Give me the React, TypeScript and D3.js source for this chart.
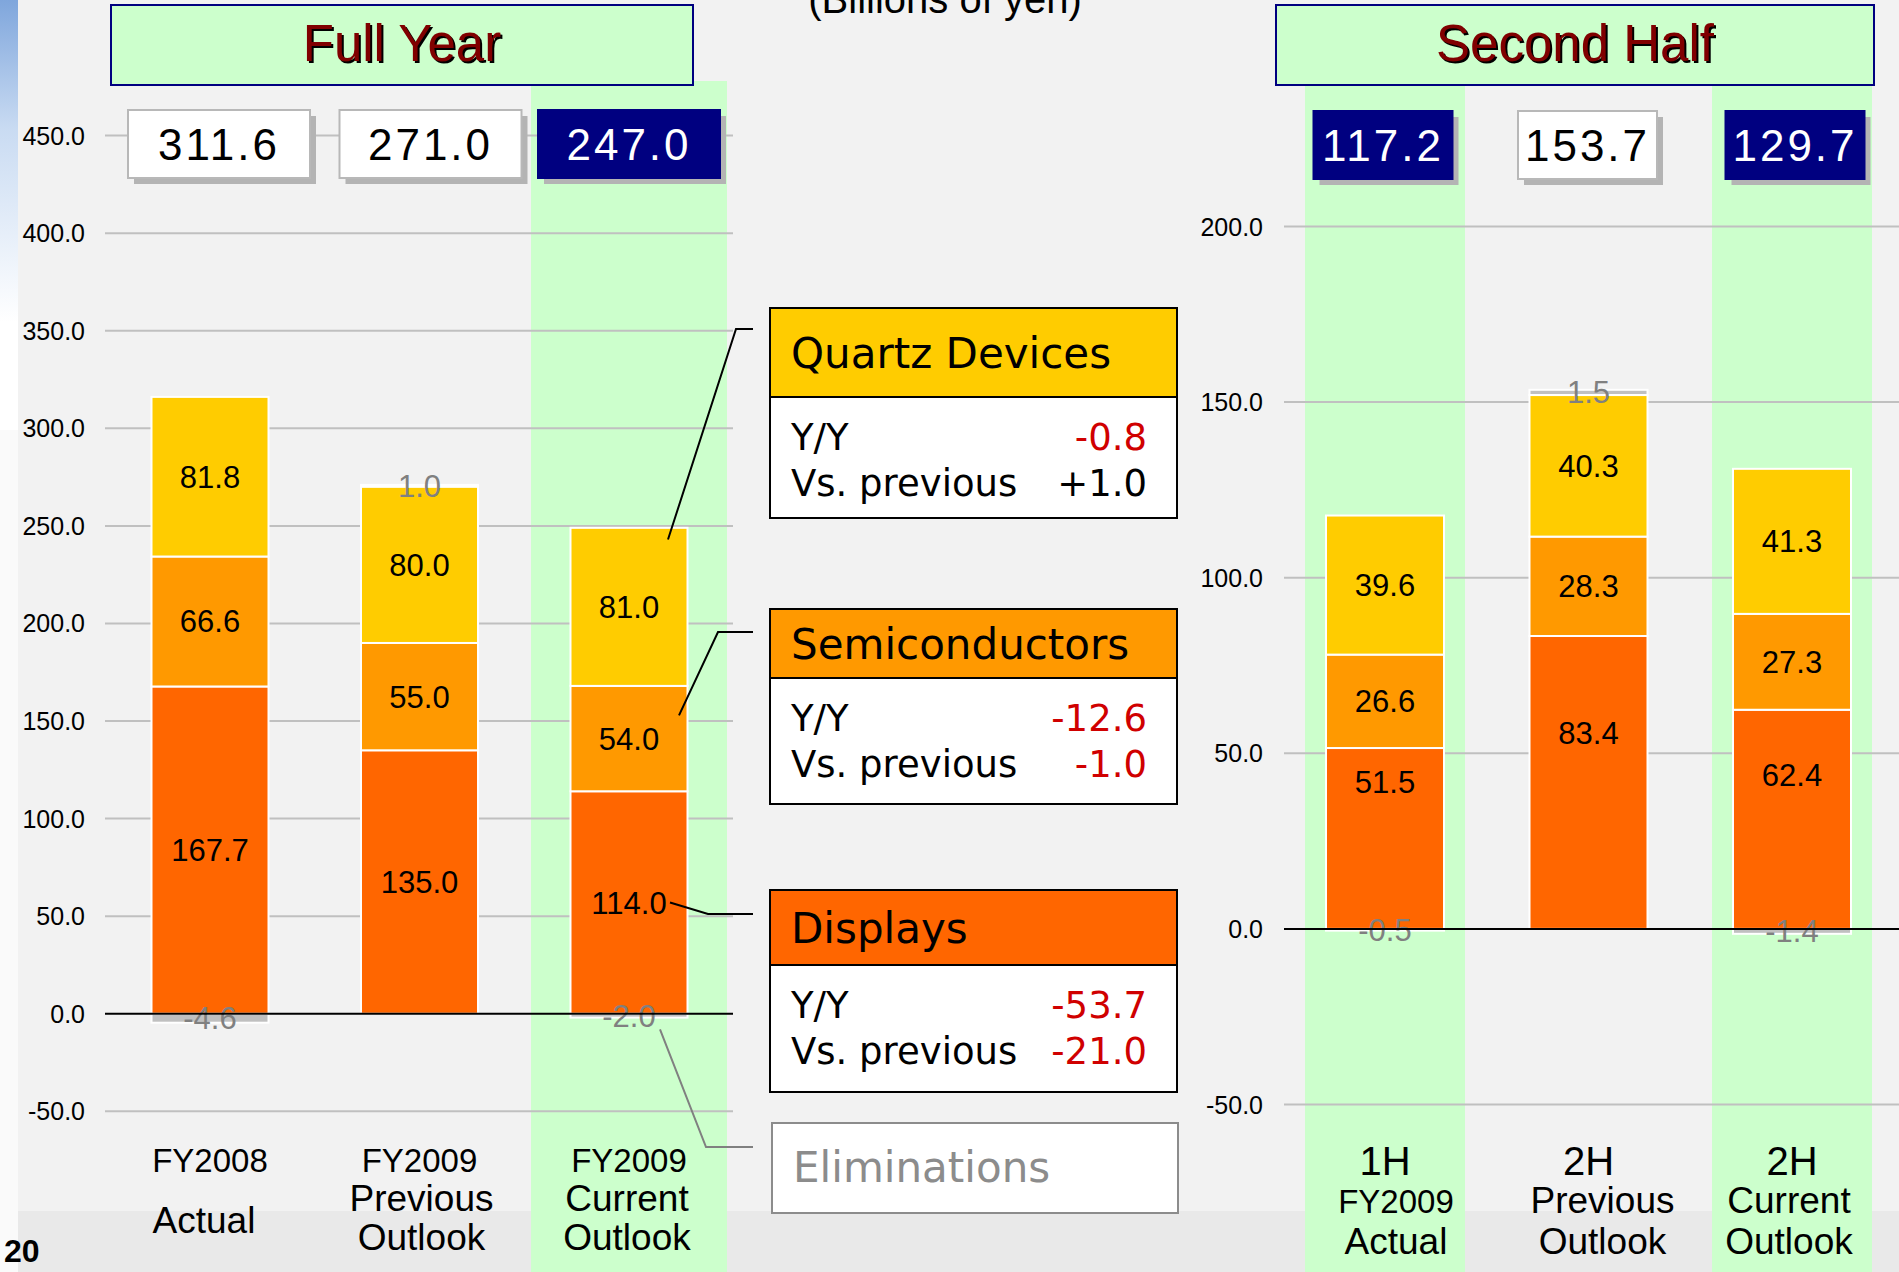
import React from "react";
import * as d3 from "d3";

// values in billions of yen
const fullYearCats = ["FY2008 Actual", "FY2009 Previous", "FY2009 Current"];
const fullYearDisplays = [167.7, 135.0, 114.0];
const fullYearSemis = [66.6, 55.0, 54.0];
const fullYearQuartz = [81.8, 80.0, 81.0];
const fullYearElim = [-4.6, 1.0, -2.0];
const fullYearTotals = ["311.6", "271.0", "247.0"];
const fullYearHighlight = [false, false, true];
const fullYearTicks = [-50, 0, 50, 100, 150, 200, 250, 300, 350, 400, 450];
const fullYearLabels = [["FY2008", "Actual"], ["FY2009", "Previous", "Outlook"], ["FY2009", "Current", "Outlook"]];

const halfCats = ["1H FY2009", "2H Previous", "2H Current"];
const halfDisplays = [51.5, 83.4, 62.4];
const halfSemis = [26.6, 28.3, 27.3];
const halfQuartz = [39.6, 40.3, 41.3];
const halfElim = [-0.5, 1.5, -1.4];
const halfTotals = ["117.2", "153.7", "129.7"];
const halfHighlight = [true, false, true];
const halfTicks = [-50, 0, 50, 100, 150, 200];
const halfLabels = [["1H", "FY2009", "Actual"], ["2H", "Previous", "Outlook"], ["2H", "Current", "Outlook"]];

const segmentNames = ["Quartz Devices", "Semiconductors", "Displays"];
const segmentYY = ["-0.8", "-12.6", "-53.7"];
const segmentVsPrev = ["+1.0", "-1.0", "-21.0"];

const colors = {
  displays: "#ff6600",
  semis: "#ff9900",
  quartz: "#ffcc00",
  elim: "#c0c0c0",
  elimText: "#808080",
  grid: "#c0c0c0",
  green: "#ccffcc",
  navy: "#000080",
  bg: "#f2f2f2",
};
const segColors = [colors.quartz, colors.semis, colors.displays];

const arial = "'Liberation Sans', Arial, sans-serif";
const verdana = "'DejaVu Sans', Verdana, sans-serif";

type PanelProps = {
  cats: string[];
  displays: number[];
  semis: number[];
  quartz: number[];
  elim: number[];
  totals: string[];
  highlight: boolean[];
  ticks: number[];
  labels: string[][];
  domain: [number, number];
  yRange: [number, number];
  xRange: [number, number];
  gridX: [number, number];
  tickX: number;
  barW: number;
  bandW: number;
  boxW: number;
  boxShift: number[];
  boxTop: number;
  bandTop: number;
  dispLabelPos: number[];
  labelShift: number[];
  rowY: number[];
  firstSize: number;
};

const Panel = (p: PanelProps) => {
  const y = d3.scaleLinear().domain(p.domain).range(p.yRange);
  const x = d3.scalePoint<string>().domain(p.cats).range(p.xRange);
  const label = (v: number) => v.toFixed(1);

  return (
    <g>
      {p.cats.map((c, i) =>
        p.highlight[i] ? (
          <rect key={"band" + i} x={x(c)! - p.bandW / 2} y={p.bandTop} width={p.bandW} height={1272 - p.bandTop} fill={colors.green} />
        ) : null
      )}
      {p.ticks.map((t) => (
        <g key={"t" + t}>
          {t !== 0 && <line x1={p.gridX[0]} x2={p.gridX[1]} y1={y(t)} y2={y(t)} stroke={colors.grid} strokeWidth={2} />}
          <text x={p.tickX} y={y(t) + 9} textAnchor="end" fontFamily={arial} fontSize={25} fill="#000">
            {t.toFixed(1)}
          </text>
        </g>
      ))}
      {p.cats.map((c, i) => {
        const cx = x(c)!;
        const x0 = cx - p.barW / 2;
        const d = p.displays[i];
        const s = p.semis[i];
        const q = p.quartz[i];
        const e = p.elim[i];
        const top = d + s + q;
        const segs = [
          { lo: 0, hi: d, fill: colors.displays, lab: label(d), pos: p.dispLabelPos[i] },
          { lo: d, hi: d + s, fill: colors.semis, lab: label(s), pos: 0.5 },
          { lo: d + s, hi: top, fill: colors.quartz, lab: label(q), pos: 0.5 },
        ];
        const eLo = e < 0 ? e : top;
        const eHi = e < 0 ? 0 : top + e;
        return (
          <g key={"bar" + i}>
            <rect x={x0} y={y(eHi)} width={p.barW} height={y(eLo) - y(eHi)} fill={colors.elim} stroke="#fff" strokeWidth={2} />
            {segs.map((sg, j) => (
              <rect key={j} x={x0} y={y(sg.hi)} width={p.barW} height={y(sg.lo) - y(sg.hi)} fill={sg.fill} stroke="#fff" strokeWidth={2} />
            ))}
            {segs.map((sg, j) => (
              <text key={"l" + j} x={cx} y={y(sg.lo + (sg.hi - sg.lo) * sg.pos) + 11} textAnchor="middle" fontFamily={arial} fontSize={31} fill="#000">
                {sg.lab}
              </text>
            ))}
            <text x={cx} y={y((eLo + eHi) / 2) + 11} textAnchor="middle" fontFamily={arial} fontSize={31} fill={colors.elimText}>
              {label(e)}
            </text>
          </g>
        );
      })}
      <line x1={p.gridX[0]} x2={p.gridX[1]} y1={y(0)} y2={y(0)} stroke="#000" strokeWidth={2} />
      {p.cats.map((c, i) => {
        const cx = x(c)! + p.boxShift[i];
        const navy = p.highlight[i];
        const bx = cx - p.boxW / 2;
        return (
          <g key={"tot" + i}>
            <rect x={bx + 6} y={p.boxTop + 6} width={p.boxW} height={68} fill="#b4b4b4" />
            <rect x={bx} y={p.boxTop} width={p.boxW} height={68} fill={navy ? colors.navy : "#fff"} stroke={navy ? colors.navy : "#b8b8b8"} strokeWidth={2} />
            <text x={cx} y={p.boxTop + 50} textAnchor="middle" fontFamily={arial} fontSize={44} letterSpacing={3} fill={navy ? "#fff" : "#000"}>
              {p.totals[i]}
            </text>
          </g>
        );
      })}
      {p.cats.map((c, i) => {
        const lines = p.labels[i];
        // a two-line label puts its second line between the lower rows
        const ys = lines.length === 2 ? [p.rowY[0], (p.rowY[1] + p.rowY[2]) / 2 + 2] : p.rowY;
        return lines.map((ln, k) => (
          <text
            key={"c" + i + k}
            x={x(c)! + (k === 0 ? 0 : p.labelShift[i])}
            y={ys[k]}
            textAnchor="middle"
            fontFamily={arial}
            fontSize={k === 0 ? p.firstSize : ln.startsWith("FY") ? 33 : 37}
            fill="#000"
          >
            {ln}
          </text>
        ));
      })}
    </g>
  );
};

const TitleBox = ({ x, w, text }: { x: number; w: number; text: string }) => (
  <g>
    <rect x={x} y={5} width={w} height={80} fill={colors.green} stroke={colors.navy} strokeWidth={2} />
    <text x={x + w / 2 + 2} y={63} textAnchor="middle" fontFamily={arial} fontSize={51} fill="#000">
      {text}
    </text>
    <text x={x + w / 2} y={61} textAnchor="middle" fontFamily={arial} fontSize={51} fill="#800000">
      {text}
    </text>
  </g>
);

const App = () => {
  // legend box geometry
  const legendX = 770;
  const legendW = 407;
  const legendBoxes = [
    { top: 308, mid: 397, bottom: 518 },
    { top: 609, mid: 678, bottom: 804 },
    { top: 890, mid: 965, bottom: 1092 },
  ];

  // scale for the full-year panel, reused for the leader lines
  const yFull = d3.scaleLinear().domain([-50, 450]).range([1111.3, 135.6]);
  const xFull = d3.scalePoint<string>().domain(fullYearCats).range([210, 629]);
  const cur = 2;
  const cx = xFull(fullYearCats[cur])!;
  const dTop = fullYearDisplays[cur];
  const sTop = dTop + fullYearSemis[cur];
  const qTop = sTop + fullYearQuartz[cur];
  const leaders = [
    { from: [cx + 39, yFull(qTop - 6)], knee: [736, 329], end: 753, color: "#000" },
    { from: [cx + 50, yFull(dTop + fullYearSemis[cur] * 0.72)], knee: [718, 632], end: 753, color: "#000" },
    { from: [cx + 41, yFull(dTop / 2)], knee: [708, 914], end: 753, color: "#000" },
    { from: [cx + 31, yFull(fullYearElim[cur] - 6)], knee: [706, 1147], end: 753, color: "#808080" },
  ];

  return (
    <svg width={1899} height={1272} style={{ position: "absolute", left: 0, top: 0 }}>
      <defs>
        <linearGradient id="edge" x1="0" y1="0" x2="0" y2="1">
          <stop offset="0" stopColor="#7fa6dc" />
          <stop offset="0.3" stopColor="#c9dbf2" />
          <stop offset="0.75" stopColor="#ffffff" />
        </linearGradient>
      </defs>
      <rect x={0} y={0} width={1899} height={1272} fill={colors.bg} />
      <rect x={0} y={1211} width={1899} height={61} fill="#e9e9e9" />
      <rect x={0} y={0} width={18} height={1272} fill="#fafafa" />
      <rect x={0} y={0} width={18} height={430} fill="url(#edge)" />

      <text x={945} y={13} textAnchor="middle" fontFamily={arial} fontSize={40} fill="#000">
        (Billions of yen)
      </text>

      <Panel
        cats={fullYearCats}
        displays={fullYearDisplays}
        semis={fullYearSemis}
        quartz={fullYearQuartz}
        elim={fullYearElim}
        totals={fullYearTotals}
        highlight={fullYearHighlight}
        ticks={fullYearTicks}
        labels={fullYearLabels}
        domain={[-50, 450]}
        yRange={[1111.3, 135.6]}
        xRange={[210, 629]}
        gridX={[105, 733]}
        tickX={85}
        barW={117}
        bandW={196}
        boxW={182}
        boxShift={[9, 11, 0]}
        boxTop={110}
        bandTop={81}
        dispLabelPos={[0.5, 0.5, 0.5]}
        labelShift={[-6, 2, -2]}
        rowY={[1172, 1211, 1250]}
        firstSize={33}
      />

      <Panel
        cats={halfCats}
        displays={halfDisplays}
        semis={halfSemis}
        quartz={halfQuartz}
        elim={halfElim}
        totals={halfTotals}
        highlight={halfHighlight}
        ticks={halfTicks}
        labels={halfLabels}
        domain={[-50, 200]}
        yRange={[1104.5, 226.5]}
        xRange={[1385, 1792]}
        gridX={[1284, 1899]}
        tickX={1263}
        barW={118}
        bandW={160}
        boxW={139}
        boxShift={[-2, -1, 3]}
        boxTop={111}
        bandTop={85}
        dispLabelPos={[0.81, 0.67, 0.7]}
        labelShift={[11, 14, -3]}
        rowY={[1175, 1213, 1254]}
        firstSize={40}
      />

      <TitleBox x={111} w={582} text="Full Year" />
      <TitleBox x={1276} w={598} text="Second Half" />

      {leaders.map((l, i) => (
        <polyline
          key={"ld" + i}
          points={`${l.from[0]},${l.from[1]} ${l.knee[0]},${l.knee[1]} ${l.end},${l.knee[1]}`}
          fill="none"
          stroke={l.color}
          strokeWidth={2}
        />
      ))}

      {segmentNames.map((name, i) => {
        const b = legendBoxes[i];
        const red = "#d00000";
        return (
          <g key={"lg" + i}>
            <rect x={legendX} y={b.top} width={legendW} height={b.mid - b.top} fill={segColors[i]} stroke="#000" strokeWidth={2} />
            <rect x={legendX} y={b.mid} width={legendW} height={b.bottom - b.mid} fill="#fff" stroke="#000" strokeWidth={2} />
            <text x={791} y={(b.top + b.mid) / 2 + 15} fontFamily={verdana} fontSize={42} fill="#000">
              {name}
            </text>
            <text x={791} y={b.mid + 53} fontFamily={verdana} fontSize={37} fill="#000">Y/Y</text>
            <text x={1147} y={b.mid + 53} textAnchor="end" fontFamily={verdana} fontSize={37} fill={segmentYY[i].startsWith("-") ? red : "#000"}>
              {segmentYY[i]}
            </text>
            <text x={791} y={b.mid + 99} fontFamily={verdana} fontSize={37} fill="#000">Vs. previous</text>
            <text x={1147} y={b.mid + 99} textAnchor="end" fontFamily={verdana} fontSize={37} fill={segmentVsPrev[i].startsWith("-") ? red : "#000"}>
              {segmentVsPrev[i]}
            </text>
          </g>
        );
      })}
      <rect x={772} y={1123} width={406} height={90} fill="#fff" stroke="#8c8c8c" strokeWidth={2} />
      <text x={793} y={1182} fontFamily={verdana} fontSize={42} fill="#8c8c8c">
        Eliminations
      </text>

      <text x={4} y={1262} fontFamily={arial} fontSize={32} fontWeight="bold" fill="#000">
        20
      </text>
    </svg>
  );
};

export default App;
